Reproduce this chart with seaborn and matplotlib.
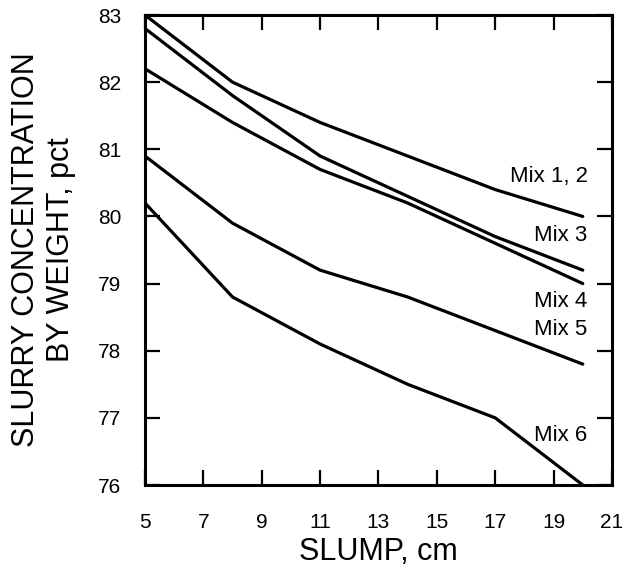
import matplotlib
matplotlib.use("Agg")
import matplotlib.pyplot as plt
import pandas as pd
import seaborn as sns

slump = [5, 8, 11, 14, 17, 20]
mix_1_2 = [83.0, 82.0, 81.4, 80.9, 80.4, 80.0]
mix_3 = [82.8, 81.8, 80.9, 80.3, 79.7, 79.2]
mix_4 = [82.2, 81.4, 80.7, 80.2, 79.6, 79.0]
mix_5 = [80.9, 79.9, 79.2, 78.8, 78.3, 77.8]
mix_6 = [80.2, 78.8, 78.1, 77.5, 77.0, 76.0]
mix_names = ["Mix 1, 2", "Mix 3", "Mix 4", "Mix 5", "Mix 6"]
label_y = [80.59, 79.72, 78.73, 78.31, 76.74]

x_ticks = [5, 7, 9, 11, 13, 15, 17, 19, 21]
y_ticks = [76, 77, 78, 79, 80, 81, 82, 83]

series = [mix_1_2, mix_3, mix_4, mix_5, mix_6]
frame = pd.concat(
    [pd.DataFrame({"slump": slump, "conc": vals, "mix": name})
     for name, vals in zip(mix_names, series)],
    ignore_index=True,
)

sns.set_theme(style="ticks", rc={"text.color": "black", "axes.labelcolor": "black",
                                 "xtick.color": "black", "ytick.color": "black"})
plt.rcParams["font.family"] = ["Liberation Sans", "DejaVu Sans"]

fig = plt.figure(figsize=(6.23, 5.71), dpi=100)
ax = fig.add_axes([0.2327, 0.1506, 0.7496, 0.8231])

sns.lineplot(
    data=frame, x="slump", y="conc", hue="mix",
    palette=["black"] * len(mix_names), linewidth=2.3,
    legend=False, ax=ax,
)

for name, y in zip(mix_names, label_y):
    ax.text(20.17, y, name, ha="right", va="center", fontsize=16)

ax.set_xlim(5, 21)
ax.set_ylim(76, 83)
ax.set_xticks(x_ticks)
ax.set_yticks(y_ticks)
ax.tick_params(direction="in", length=11, width=1.6, top=True, right=True,
               labelsize=15)
ax.tick_params(axis="x", pad=20)
ax.tick_params(axis="y", pad=17)
for spine in ax.spines.values():
    spine.set_linewidth(2.2)
    spine.set_color("black")

ax.set_xlabel("SLUMP, cm", fontsize=22, labelpad=4)
ax.set_ylabel("SLURRY CONCENTRATION\nBY WEIGHT, pct", fontsize=22, labelpad=16)

fig.savefig("out.png", dpi=100)
